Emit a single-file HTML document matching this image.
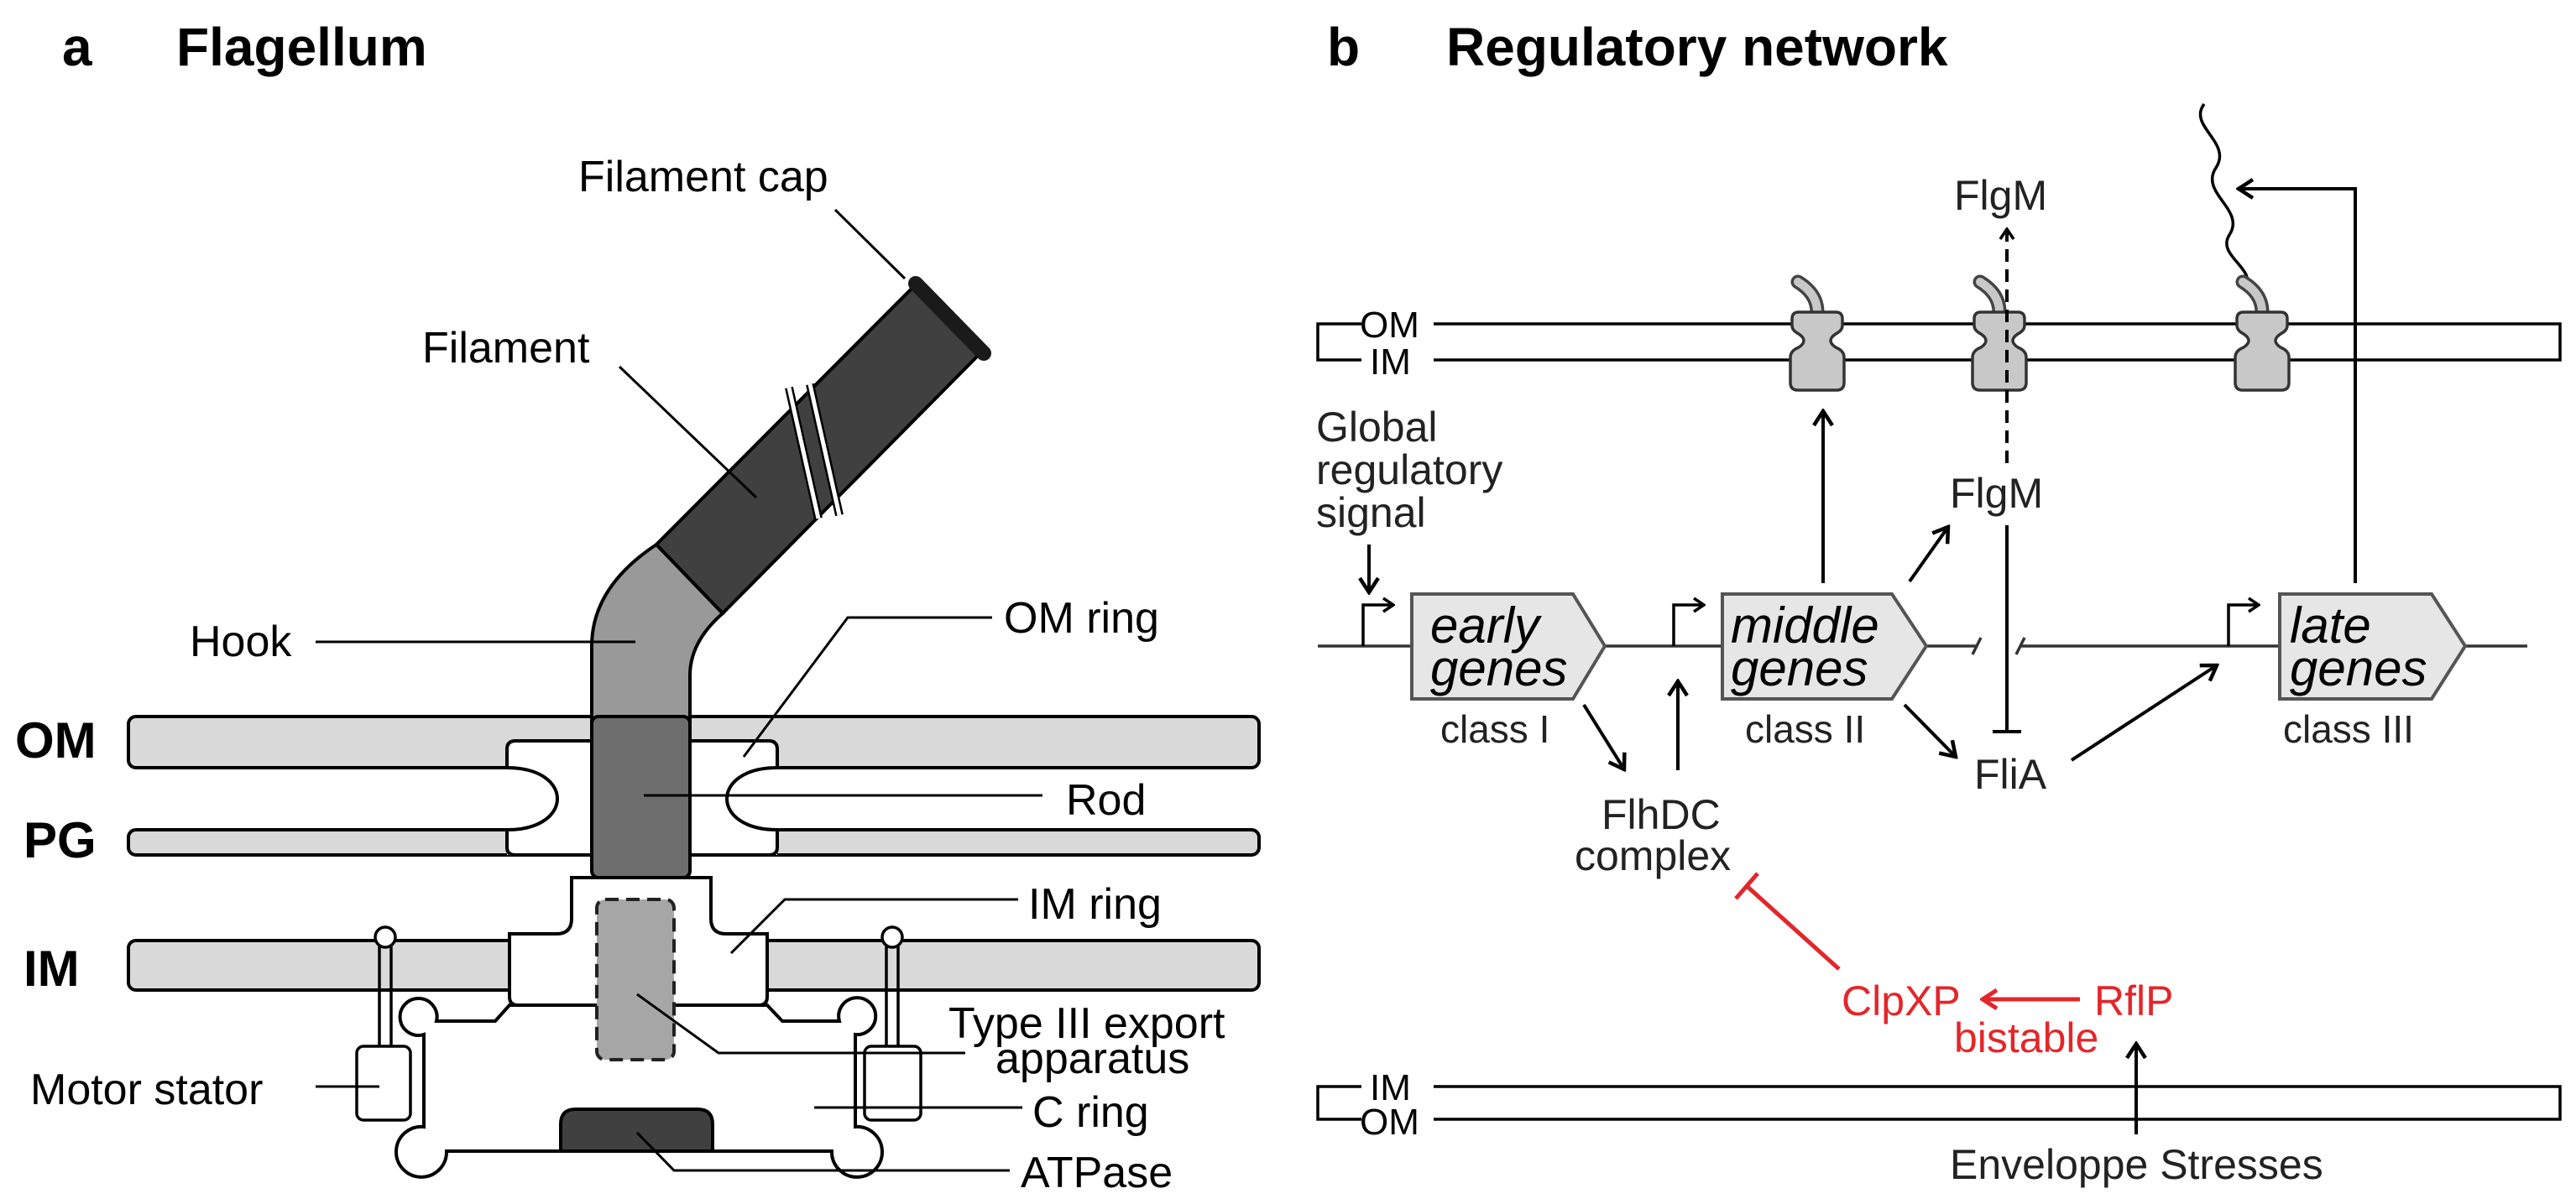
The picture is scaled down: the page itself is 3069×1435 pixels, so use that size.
<!DOCTYPE html>
<html><head><meta charset="utf-8"><style>html,body{margin:0;padding:0;background:#fff}svg{display:block}</style></head><body>
<svg width="3069" height="1435" viewBox="0 0 3069 1435" xmlns="http://www.w3.org/2000/svg" font-family="Liberation Sans, sans-serif">
<defs>
<marker id="ah" viewBox="0 0 22 26" refX="19" refY="13" markerWidth="22" markerHeight="26" markerUnits="userSpaceOnUse" orient="auto"><path d="M2,2 L19,13 L2,24" fill="none" stroke="#000" stroke-width="4.5"/></marker>
<marker id="ahr" viewBox="0 0 22 26" refX="19" refY="13" markerWidth="22" markerHeight="26" markerUnits="userSpaceOnUse" orient="auto"><path d="M2,2 L19,13 L2,24" fill="none" stroke="#e3262a" stroke-width="5"/></marker>
<marker id="ahs" viewBox="0 0 16 20" refX="14" refY="10" markerWidth="16" markerHeight="20" markerUnits="userSpaceOnUse" orient="auto"><path d="M2,2 L14,10 L2,18" fill="none" stroke="#000" stroke-width="3.5"/></marker>
</defs>

<!-- ===== Panel a ===== -->
<text x="74" y="78" font-size="64" font-weight="bold">a</text>
<text x="210" y="78" font-size="64" font-weight="bold">Flagellum</text>

<g stroke="#000" stroke-width="4">
<rect x="153" y="854" width="1347" height="61" rx="9" fill="#d9d9d9"/>
<rect x="153" y="989" width="1347" height="30" rx="9" fill="#d9d9d9"/>
<rect x="153" y="1121" width="1347" height="59" rx="9" fill="#d9d9d9"/>
</g>
<rect x="604" y="883" width="322" height="136" fill="#fff"/>
<g fill="none" stroke="#000" stroke-width="4">
<path d="M705,883 L614,883 Q604,883 604,893 L604,915 C684,915 684,989 604,989 L604,1010 Q604,1019 614,1019 L705,1019"/>
<path d="M822,883 L916,883 Q926,883 926,893 L926,915 C846,915 846,989 926,989 L926,1010 Q926,1019 916,1019 L822,1019"/>
</g>
<path d="M705,860 L705,770 Q705,700 782,649 L861,731 Q822,765 822,805 L822,860 Z" fill="#999" stroke="#000" stroke-width="4"/>
<path d="M782,649 L1089,341 L1165,424 L861,731 Z" fill="#404040" stroke="#000" stroke-width="4"/>
<line x1="1091" y1="338" x2="1172" y2="421" stroke="#1a1a1a" stroke-width="18" stroke-linecap="round"/>
<g stroke="#000" stroke-width="10"><line x1="940" y1="462" x2="975" y2="618"/><line x1="965" y1="458" x2="1000" y2="614"/></g>
<g stroke="#fff" stroke-width="5"><line x1="940" y1="462" x2="975" y2="618"/><line x1="965" y1="458" x2="1000" y2="614"/></g>
<rect x="705" y="854" width="117" height="192" rx="8" fill="#6e6e6e" stroke="#000" stroke-width="4"/>
<path d="M607,1198 L590,1217 L520,1217 A22,22 0 1 0 505,1233 L505,1343 A30,30 0 1 0 532,1372 L991,1372 A30,30 0 1 0 1019,1343 L1019,1233 A22,22 0 1 0 1000,1217 L932,1217 L914,1198 Z" fill="#fff" stroke="#000" stroke-width="4"/>
<path d="M681,1046 L847,1046 L847,1095 Q847,1113 865,1113 L914,1113 L914,1188 Q914,1198 904,1198 L617,1198 Q607,1198 607,1188 L607,1113 L663,1113 Q681,1113 681,1095 Z" fill="#fff" stroke="#000" stroke-width="4"/>
<g fill="#fff" stroke="#000" stroke-width="3.5">
<path d="M452,1128 L452,1247 M466,1128 L466,1247"/>
<circle cx="459" cy="1117" r="12"/>
<rect x="425" y="1247" width="64" height="88" rx="8"/>
<path d="M1056,1128 L1056,1247 M1070,1128 L1070,1247"/>
<circle cx="1063" cy="1117" r="12"/>
<rect x="1030" y="1247" width="67" height="88" rx="8"/>
</g>
<rect x="711" y="1072" width="92" height="191" rx="10" fill="#a6a6a6" stroke="#222" stroke-width="4" stroke-dasharray="16 9"/>
<path d="M668,1372 L668,1340 Q668,1322 686,1322 L831,1322 Q849,1322 849,1340 L849,1372 Z" fill="#404040" stroke="#000" stroke-width="4"/>

<g stroke="#000" stroke-width="3" fill="none">
<path d="M995,250 L1078,332"/>
<path d="M738,437 L901,593"/>
<path d="M376,765 L757,765"/>
<path d="M1182,736 L1010,736 L886,902"/>
<path d="M1242,948 L767,948"/>
<path d="M1213,1072 L935,1072 L871,1136"/>
<path d="M759,1185 L856,1255 L1150,1255"/>
<path d="M376,1295 L452,1295"/>
<path d="M970,1320 L1218,1320"/>
<path d="M759,1350 L803,1395 L1203,1395"/>
</g>
<g font-size="52" fill="#000">
<text x="689" y="228">Filament cap</text>
<text x="503" y="432">Filament</text>
<text x="226" y="782">Hook</text>
<text x="1196" y="754">OM ring</text>
<text x="1270" y="971">Rod</text>
<text x="1225" y="1095">IM ring</text>
<text x="1130" y="1237">Type III export</text>
<text x="1186" y="1279">apparatus</text>
<text x="36" y="1316">Motor stator</text>
<text x="1230" y="1343">C ring</text>
<text x="1216" y="1415">ATPase</text>
</g>
<g font-size="60" font-weight="bold">
<text x="18" y="903">OM</text>
<text x="28" y="1022">PG</text>
<text x="28" y="1175">IM</text>
</g>

<!-- ===== Panel b ===== -->
<text x="1581" y="78" font-size="64" font-weight="bold">b</text>
<text x="1723" y="78" font-size="64" font-weight="bold">Regulatory network</text>

<g fill="none" stroke="#000" stroke-width="3.5">
<path d="M1622,386 L1570,386 L1570,429 L1622,429"/>
<path d="M1708,386 L3050,386 L3050,429 L1708,429"/>
<path d="M1622,1295 L1570,1295 L1570,1334 L1622,1334"/>
<path d="M1708,1295 L3050,1295 L3050,1334 L1708,1334"/>
</g>
<g font-size="44">
<text x="1620" y="402">OM</text><text x="1632" y="446">IM</text>
<text x="1632" y="1311">IM</text><text x="1620" y="1352">OM</text>
</g>

<path d="M2626,124 C2606,150 2660,170 2640,200 C2620,230 2676,250 2656,280 C2640,305 2690,320 2675,345" fill="none" stroke="#000" stroke-width="3.5"/>

<g>
<g>
<path d="M2165,372 Q2165,350 2142,336" fill="none" stroke="#444" stroke-width="17" stroke-linecap="round"/>
<path d="M2165,372 Q2165,350 2142,336" fill="none" stroke="#c8c8c8" stroke-width="10" stroke-linecap="round"/>
<path d="M2143,372 h44 q8,0 8,8 v8 q0,6 -8,10 q-6,4 -6,8 q0,4 6,8 q10,4 10,12 v30 q0,9 -9,9 h-46 q-9,0 -9,-9 v-30 q0,-8 10,-12 q6,-4 6,-8 q0,-4 -6,-8 q-8,-4 -8,-10 v-8 q0,-8 8,-8 z" fill="#c8c8c8" stroke="#333" stroke-width="3.5"/>
</g>
<g>
<path d="M2382,372 Q2382,350 2359,336" fill="none" stroke="#444" stroke-width="17" stroke-linecap="round"/>
<path d="M2382,372 Q2382,350 2359,336" fill="none" stroke="#c8c8c8" stroke-width="10" stroke-linecap="round"/>
<path d="M2360,372 h44 q8,0 8,8 v8 q0,6 -8,10 q-6,4 -6,8 q0,4 6,8 q10,4 10,12 v30 q0,9 -9,9 h-46 q-9,0 -9,-9 v-30 q0,-8 10,-12 q6,-4 6,-8 q0,-4 -6,-8 q-8,-4 -8,-10 v-8 q0,-8 8,-8 z" fill="#c8c8c8" stroke="#333" stroke-width="3.5"/>
</g>
<g>
<path d="M2695,372 Q2695,350 2672,336" fill="none" stroke="#444" stroke-width="17" stroke-linecap="round"/>
<path d="M2695,372 Q2695,350 2672,336" fill="none" stroke="#c8c8c8" stroke-width="10" stroke-linecap="round"/>
<path d="M2673,372 h44 q8,0 8,8 v8 q0,6 -8,10 q-6,4 -6,8 q0,4 6,8 q10,4 10,12 v30 q0,9 -9,9 h-46 q-9,0 -9,-9 v-30 q0,-8 10,-12 q6,-4 6,-8 q0,-4 -6,-8 q-8,-4 -8,-10 v-8 q0,-8 8,-8 z" fill="#c8c8c8" stroke="#333" stroke-width="3.5"/>
</g>
</g>

<g stroke="#333" stroke-width="3.5" fill="none">
<path d="M1570,770 L2356,770"/>
<path d="M2408,770 L3011,770"/>
<path d="M2350,780 L2360,760 M2402,780 L2412,760"/>
</g>
<g fill="#e6e6e6" stroke="#555" stroke-width="4">
<path d="M1682,708 L1874,708 L1912,770 L1874,833 L1682,833 Z"/>
<path d="M2052,708 L2254,708 L2295,770 L2254,833 L2052,833 Z"/>
<path d="M2716,708 L2897,708 L2937,770 L2897,833 L2716,833 Z"/>
</g>
<g font-size="60" font-style="italic">
<text x="1704" y="766">early</text><text x="1704" y="817">genes</text>
<text x="2062" y="766">middle</text><text x="2062" y="817">genes</text>
<text x="2728" y="766">late</text><text x="2728" y="817">genes</text>
</g>
<g font-size="46" fill="#222">
<text x="1716" y="885">class I</text>
<text x="2079" y="885">class II</text>
<text x="2720" y="885">class III</text>
</g>
<g fill="none" stroke="#000" stroke-width="3.5">
<path d="M1624,770 L1624,721 L1660,721" marker-end="url(#ahs)"/>
<path d="M1994,770 L1994,721 L2030,721" marker-end="url(#ahs)"/>
<path d="M2655,770 L2655,721 L2691,721" marker-end="url(#ahs)"/>
</g>

<g fill="none" stroke="#000" stroke-width="4">
<path d="M1631,649 L1631,706" marker-end="url(#ah)"/>
<path d="M1887,840 L1935,917" marker-end="url(#ah)"/>
<path d="M1999,918 L1999,812" marker-end="url(#ah)"/>
<path d="M2172,695 L2172,490" marker-end="url(#ah)"/>
<path d="M2275,693 L2321,628" marker-end="url(#ah)"/>
<path d="M2269,840 L2330,902" marker-end="url(#ah)"/>
<path d="M2468,906 L2641,793" marker-end="url(#ah)"/>
<path d="M2806,695 L2806,225 L2667,225" marker-end="url(#ah)"/>
<path d="M2391,626 L2391,872 M2374,872 L2408,872"/>
<path d="M2391,552 L2391,273" stroke-dasharray="15 9" marker-end="url(#ahs)"/>
<path d="M2545,1352 L2545,1244" marker-end="url(#ah)"/>
</g>
<g fill="none" stroke="#e3262a" stroke-width="5">
<path d="M2191,1155 L2081,1056 M2068,1071 L2094,1041"/>
<path d="M2478,1191 L2362,1191" marker-end="url(#ahr)"/>
</g>

<g font-size="50" fill="#222">
<text x="2328" y="250">FlgM</text>
<text x="2323" y="605">FlgM</text>
<text x="2352" y="940">FliA</text>
<text x="1568" y="526">Global</text>
<text x="1568" y="577">regulatory</text>
<text x="1568" y="628">signal</text>
<text x="1908" y="988">FlhDC</text>
<text x="1876" y="1037">complex</text>
<text x="2323" y="1405">Enveloppe Stresses</text>
</g>
<g font-size="50" fill="#e3262a">
<text x="2194" y="1210">ClpXP</text>
<text x="2495" y="1210">RflP</text>
<text x="2328" y="1254">bistable</text>
</g>
</svg>
</body></html>
